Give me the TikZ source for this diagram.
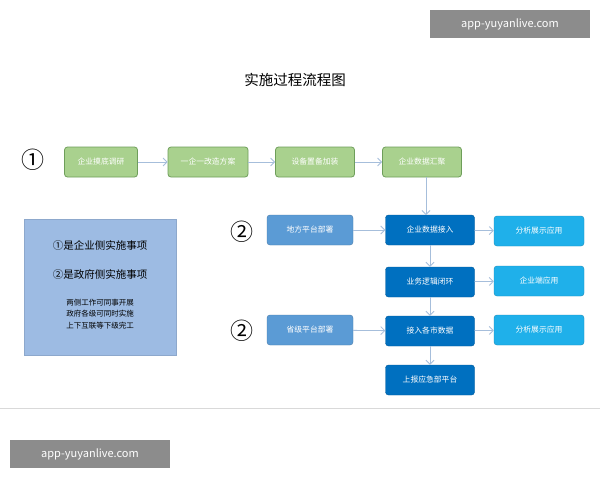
\documentclass[tikz,border=0pt]{standalone}
\usepackage{fontspec}
\setmainfont{Noto Sans CJK SC}
\usetikzlibrary{arrows.meta}
\definecolor{gf}{HTML}{A9D18E}\definecolor{gd}{HTML}{6E9E5A}
\definecolor{mb}{HTML}{5B9BD5}\definecolor{db}{HTML}{0070C0}\definecolor{cb}{HTML}{1FB0EA}
\definecolor{ar}{HTML}{A6BEDB}\definecolor{lb}{HTML}{9DBBE3}
\begin{document}
\begin{tikzpicture}[x=1pt,y=-1pt,
 box/.style={rounded corners=3pt,minimum height=30pt,font=\fontsize{7.8}{9}\selectfont,text=white,inner sep=1pt},
 g/.style={box,fill=gf,draw=gd,line width=0.8pt,minimum width=76pt},
 m/.style={box,fill=mb,draw=mb!80!black,minimum width=86pt},
 d/.style={box,fill=db,draw=db!80!black,minimum width=89pt},
 c/.style={box,fill=cb,draw=cb!80!black,minimum width=90pt},
 a/.style={draw=ar,line width=0.8pt,-{Straight Barb[length=4pt]}},
 num/.style={font=\fontsize{23}{23}\selectfont},
 wm/.style={fill=black!45,text=white,font=\fontsize{11}{12}\selectfont,minimum width=160pt,minimum height=28pt}]
\useasboundingbox (0,0) rectangle (600,480);
\fill[white] (0,0) rectangle (600,480);
\draw[black!15] (0,408) -- (600,408);
\node[wm] (w1) at (510,24) {app-yuyanlive.com};
\node[wm] (w2) at (90,454) {app-yuyanlive.com};
\node[font=\fontsize{14.5}{15}\selectfont] (t) at (295,80) {实施过程流程图};
\node[num] (n1) at (33,160) {①};
\node[g,minimum width=73pt] (a1) at (101,162) {企业摸底调研};
\node[g,minimum width=80pt] (a2) at (208,162) {一企一改造方案};
\node[g,minimum width=79pt] (a3) at (315,162) {设备置备加装};
\node[g,minimum width=79pt] (a4) at (422,162) {企业数据汇聚};
\node[fill=lb,draw=lb!90!black,minimum width=152pt,minimum height=136pt] (L) at (100,287) {};
\node[font=\fontsize{10.5}{12}\selectfont] (l1) at (100,245) {①是企业侧实施事项};
\node[font=\fontsize{10.5}{12}\selectfont] (l2) at (100,274) {②是政府侧实施事项};
\node[font=\fontsize{7.5}{11.5}\selectfont,align=center] (l3) at (100,314) {两侧工作可同事开展\\政府各级可同时实施\\上下互联等下级完工};
\node[num] (n2) at (242,232) {②};
\node[m] (b1) at (310,230) {地方平台部署};
\node[d] (b2) at (430,230) {企业数据接入};
\node[c] (b3) at (539,231) {分析展示应用};
\node[d] (c2) at (430,282) {业务逻辑闭环};
\node[c] (c3) at (539,281) {企业端应用};
\node[num] (n3) at (242,331) {②};
\node[m] (d1) at (310,330) {省级平台部署};
\node[d] (d2) at (430,331) {接入各市数据};
\node[c] (d3) at (539,330) {分析展示应用};
\node[d] (e2) at (430,380) {上报应急部平台};
\draw[a] (a1) -- (a2); \draw[a] (a2) -- (a3); \draw[a] (a3) -- (a4);
\draw[a] (a4.south -| 426,0) -- (426,215);
\draw[a] (b1) -- (b2); \draw[a] (b2) -- (b3);
\draw[a] (b2) -- (c2); \draw[a] (c2) -- (c3);
\draw[a] (c2) -- (d2);
\draw[a] (d1) -- (d2); \draw[a] (d2) -- (d3);
\draw[a] (d2) -- (e2);
\end{tikzpicture}
\end{document}
